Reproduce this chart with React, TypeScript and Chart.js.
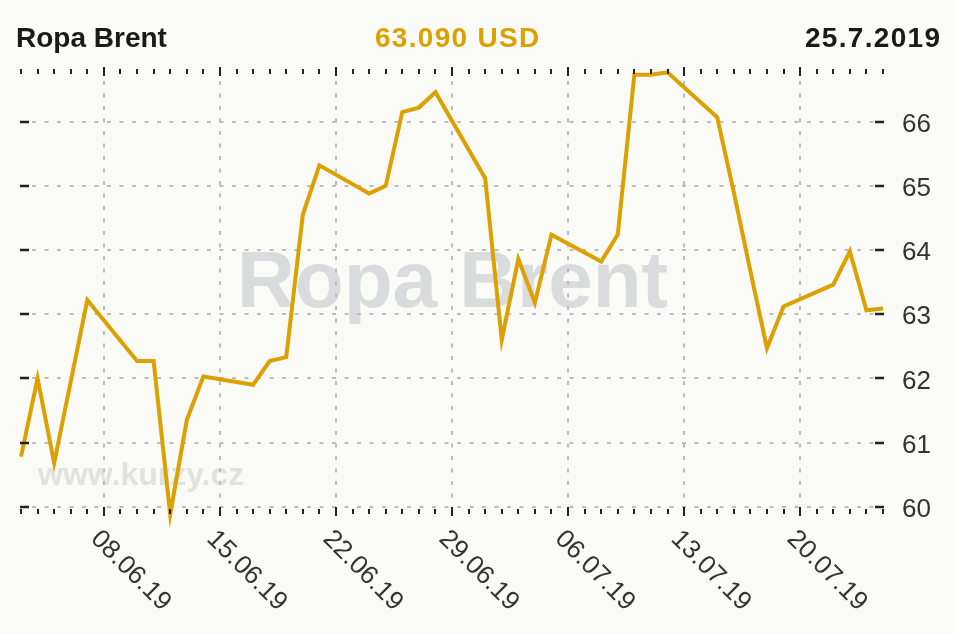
import React, { useEffect, useRef } from 'react';
import { Chart, registerables } from 'chart.js';

Chart.register(...registerables);

// ---- data ----
const dates = [
  '03.06.19', '04.06.19', '05.06.19', '06.06.19', '07.06.19', '08.06.19', '09.06.19',
  '10.06.19', '11.06.19', '12.06.19', '13.06.19', '14.06.19', '15.06.19', '16.06.19',
  '17.06.19', '18.06.19', '19.06.19', '20.06.19', '21.06.19', '22.06.19', '23.06.19',
  '24.06.19', '25.06.19', '26.06.19', '27.06.19', '28.06.19', '29.06.19', '30.06.19',
  '01.07.19', '02.07.19', '03.07.19', '04.07.19', '05.07.19', '06.07.19', '07.07.19',
  '08.07.19', '09.07.19', '10.07.19', '11.07.19', '12.07.19', '13.07.19', '14.07.19',
  '15.07.19', '16.07.19', '17.07.19', '18.07.19', '19.07.19', '20.07.19', '21.07.19',
  '22.07.19', '23.07.19', '24.07.19', '25.07.19',
];
const prices: (number | null)[] = [
  60.78, 62.0, 60.68, 61.95, 63.22, null, null,
  62.27, 62.27, 59.88, 61.35, 62.03, null, null,
  61.9, 62.27, 62.33, 64.55, 65.32, null, null,
  64.88, 65.0, 66.15, 66.22, 66.46, null, null,
  65.12, 62.6, 63.86, 63.18, 64.24, null, null,
  63.82, 64.24, 66.73, 66.73, 66.77, null, null,
  66.07, 64.9, 63.67, 62.47, 63.12, null, null,
  63.46, 63.98, 63.06, 63.09,
];
const weekTickLabels = ['08.06.19', '15.06.19', '22.06.19', '29.06.19', '06.07.19', '13.07.19', '20.07.19'];
const yTicks = [60, 61, 62, 63, 64, 65, 66];
const yMin = 59.98;
const yMax = 66.79;
const titleLeft = 'Ropa Brent';
const titleCenter = '63.090 USD';
const titleRight = '25.7.2019';
const watermarkMain = 'Ropa Brent';
const watermarkSite = 'www.kurzy.cz';

// ---- style ----
const W = 956;
const H = 634;
const BG = '#fafaf7';
const GOLD = '#dca000';
const FONT = '"Liberation Sans", Arial, Helvetica, sans-serif';

const decor = {
  id: 'decor',
  beforeDraw(chart: any) {
    const { ctx, chartArea: a, scales } = chart;
    const x = scales.x;
    const y = scales.y;
    ctx.save();
    ctx.fillStyle = BG;
    ctx.fillRect(0, 0, W, H);

    // watermarks
    ctx.textAlign = 'left';
    ctx.textBaseline = 'alphabetic';
    ctx.fillStyle = '#dadbdc';
    ctx.font = `bold 80px ${FONT}`;
    ctx.fillText(watermarkMain, 237, 307);
    ctx.fillStyle = '#e1e1e1';
    ctx.font = `bold 32px ${FONT}`;
    ctx.fillText(watermarkSite, 38, 485);

    // horizontal grid
    ctx.strokeStyle = '#bcbcbc';
    ctx.lineWidth = 2;
    ctx.setLineDash([4, 8.5]);
    for (const v of yTicks) {
      const py = Math.round(y.getPixelForValue(v));
      ctx.beginPath();
      ctx.moveTo(a.left + 11, py);
      ctx.lineTo(a.right - 9, py);
      ctx.stroke();
    }
    // vertical grid
    for (const lab of weekTickLabels) {
      const i = dates.indexOf(lab);
      const px = Math.round(x.getPixelForValue(i));
      ctx.beginPath();
      ctx.moveTo(px, a.top + 10);
      ctx.lineTo(px, a.bottom - 2);
      ctx.stroke();
    }
    ctx.restore();
  },
  afterDraw(chart: any) {
    const { ctx, chartArea: a, scales } = chart;
    const x = scales.x;
    const y = scales.y;
    ctx.save();
    ctx.setLineDash([]);
    ctx.strokeStyle = '#222';
    ctx.lineWidth = 2;
    // x tick rows (top and bottom)
    for (let i = 0; i < dates.length; i++) {
      const px = Math.round(x.getPixelForValue(i));
      const major = weekTickLabels.includes(dates[i]);
      ctx.beginPath();
      if (major) {
        ctx.moveTo(px, a.top - 4);
        ctx.lineTo(px, a.top + 5);
        ctx.moveTo(px, a.bottom - 1);
        ctx.lineTo(px, a.bottom + 8);
      } else {
        ctx.moveTo(px, a.top - 2);
        ctx.lineTo(px, a.top + 3);
        ctx.moveTo(px, a.bottom + 1);
        ctx.lineTo(px, a.bottom + 6);
      }
      ctx.stroke();
    }
    // y tick marks (inside, both sides)
    ctx.lineWidth = 2.5;
    for (const v of yTicks) {
      const py = Math.round(y.getPixelForValue(v));
      ctx.beginPath();
      ctx.moveTo(a.left - 1, py);
      ctx.lineTo(a.left + 8, py);
      ctx.moveTo(a.right - 8, py);
      ctx.lineTo(a.right + 1, py);
      ctx.stroke();
    }

    // y labels
    ctx.fillStyle = '#333';
    ctx.font = `26px ${FONT}`;
    ctx.textAlign = 'left';
    ctx.textBaseline = 'middle';
    for (const v of yTicks) {
      const py = y.getPixelForValue(v);
      ctx.fillText(String(v), a.right + 19, py + 3);
    }

    // x labels (rotated clockwise)
    for (const lab of weekTickLabels) {
      const i = dates.indexOf(lab);
      const px = x.getPixelForValue(i);
      ctx.save();
      ctx.translate(px - 9, a.bottom + 27);
      ctx.rotate(Math.PI / 4);
      ctx.fillText(lab, 0, 0);
      ctx.restore();
    }

    // header
    ctx.textBaseline = 'alphabetic';
    ctx.font = `bold 28px ${FONT}`;
    ctx.fillStyle = '#1a1a1a';
    ctx.fillText(titleLeft, 16, 47);
    (ctx as any).letterSpacing = '1.3px';
    ctx.fillStyle = GOLD;
    ctx.fillText(titleCenter, 375, 47);
    ctx.fillStyle = '#1a1a1a';
    ctx.fillText(titleRight, 805, 47);
    (ctx as any).letterSpacing = '0px';
    ctx.restore();
  },
};

export default function App() {
  const ref = useRef<HTMLCanvasElement>(null);
  useEffect(() => {
    document.body.style.margin = '0';
    document.body.style.background = BG;
    const chart = new Chart(ref.current!, {
      type: 'line',
      data: {
        labels: dates,
        datasets: [
          {
            data: prices,
            borderColor: GOLD,
            borderWidth: 4,
            pointRadius: 0,
            tension: 0,
            spanGaps: true,
            clip: false as any,
          },
        ],
      },
      options: {
        responsive: false,
        animation: false,
        devicePixelRatio: 1,
        layout: { padding: { left: 21, right: 73, top: 71, bottom: 126 } },
        plugins: { legend: { display: false }, tooltip: { enabled: false }, title: { display: false } },
        scales: {
          x: { type: 'category', display: false, offset: false },
          y: { display: false, min: yMin, max: yMax },
        },
      },
      plugins: [decor],
    });
    return () => chart.destroy();
  }, []);
  return <canvas ref={ref} width={W} height={H} style={{ display: 'block', width: W, height: H }} />;
}
